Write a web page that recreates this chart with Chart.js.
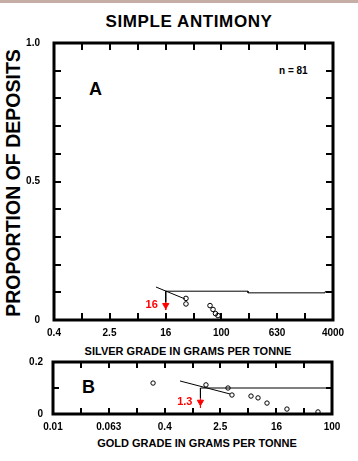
<!DOCTYPE html>
<html>
<head>
<meta charset="utf-8">
<script src="https://cdn.jsdelivr.net/npm/chart.js@4.4.1/dist/chart.umd.min.js"></script>
<style>
  html,body{margin:0;padding:0;background:#fff;}
  #wrap{position:relative;width:358px;height:461px;overflow:hidden;background:#fff;font-family:"Liberation Sans",Arial,sans-serif;font-weight:bold;color:#000;}
  .t{position:absolute;white-space:nowrap;line-height:1;}
  canvas{position:absolute;left:0;}
</style>
</head>
<body>
<div id="wrap">
  <div style="position:absolute;left:0;top:0;width:358px;height:3px;background:#c6aea6;"></div>
  <div class="t" id="title" style="font-size:17px;letter-spacing:0.6px;left:189px;top:13px;transform:translateX(-50%);">SIMPLE ANTIMONY</div>
  <div class="t" id="ytitle" style="font-size:19.5px;left:14px;top:183px;transform:translate(-50%,-50%) rotate(-90deg);">PROPORTION OF DEPOSITS</div>
  <div class="t" style="font-size:11px;left:188px;top:346px;transform:translateX(-50%);">SILVER GRADE IN GRAMS PER TONNE</div>
  <div class="t" style="font-size:11px;left:197px;top:438px;transform:translateX(-50%);">GOLD GRADE IN GRAMS PER TONNE</div>
  <div class="t" style="font-size:18px;left:89px;top:80px;">A</div>
  <div class="t" style="font-size:10px;left:279px;top:66px;">n = 81</div>
  <div class="t" style="font-size:18px;left:82px;top:378px;">B</div>
  <canvas id="cA" width="358" height="345" style="top:0;"></canvas>
  <canvas id="cB" width="358" height="121" style="top:340px;"></canvas>
</div>
<script>
// ---------- DATA ----------
const silverTicks = [0.4, 1, 2.5, 6.3, 16, 40, 100, 250, 630, 1600, 4000];
const silverTickLabels = ['0.4', '', '2.5', '', '16', '', '100', '', '630', '', '4000'];
const propTicksA = [0, 0.1, 0.2, 0.3, 0.4, 0.5, 0.6, 0.7, 0.8, 0.9, 1.0];
const propTickLabelsA = ['0', '', '', '', '', '0.5', '', '', '', '', '1.0'];

const silverPointsX = [31.2, 31.2, 69.0, 76.2, 82.7, 89.8];
const silverPointsY = [0.078, 0.058, 0.052, 0.038, 0.023, 0.016];
const silverSlopeX = [11.6, 30.2];
const silverSlopeY = [0.119, 0.076];
const silverCurveX = [16, 242, 242, 3072, 3072, 4000];
const silverCurveY = [0.104, 0.104, 0.098, 0.098, 0.102, 0.102];
const silverMedian = 16;
const silverMedianLabel = '16';

const goldTicks = [0.01, 0.025, 0.063, 0.16, 0.4, 1, 2.5, 6.3, 16, 40, 100];
const goldTickLabels = ['0.01', '', '0.063', '', '0.4', '', '2.5', '', '16', '', '100'];
const propTicksB = [0, 0.1, 0.2];
const propTickLabelsB = ['0', '', '0.2'];

const goldPointsX = [0.272, 1.56, 3.23, 3.68, 6.9, 8.7, 11.7, 22.6, 63];
const goldPointsY = [0.119, 0.112, 0.100, 0.073, 0.069, 0.062, 0.042, 0.019, 0.008];
const goldSlopeX = [0.662, 3.45];
const goldSlopeY = [0.127, 0.077];
const goldCurveX = [1.3, 100];
const goldCurveY = [0.100, 0.100];
const goldMedian = 1.3;
const goldMedianLabel = '1.3';

// ---------- helpers ----------
const FONT = '"Liberation Sans", Arial, sans-serif';
const zip = (xs, ys) => xs.map((x, i) => ({x: x, y: ys[i]}));

function framePlugin(tickLen, labelText, labelValue, labelY) {
  return {
    id: 'frame',
    afterDatasetsDraw(chart) {
      const ctx = chart.ctx, a = chart.chartArea;
      const xs = chart.scales.x, ys = chart.scales.y;
      ctx.save();
      ctx.strokeStyle = '#000';
      ctx.lineWidth = 2;
      xs.ticks.forEach((t, i) => {
        if (i === 0 || i === xs.ticks.length - 1) return;
        const px = Math.round(xs.getPixelForValue(t.value));
        ctx.beginPath();
        ctx.moveTo(px, a.bottom); ctx.lineTo(px, a.bottom - tickLen);
        ctx.moveTo(px, a.top); ctx.lineTo(px, a.top + tickLen);
        ctx.stroke();
      });
      ys.ticks.forEach((t, i) => {
        if (i === 0 || i === ys.ticks.length - 1) return;
        const py = Math.round(ys.getPixelForValue(t.value));
        ctx.beginPath();
        ctx.moveTo(a.left, py); ctx.lineTo(a.left + tickLen, py);
        ctx.moveTo(a.right, py); ctx.lineTo(a.right - tickLen, py);
        ctx.stroke();
      });
      ctx.lineWidth = 3;
      ctx.strokeRect(a.left, a.top, a.right - a.left, a.bottom - a.top);
      // median label
      ctx.fillStyle = '#ff0000';
      ctx.font = 'bold 11px ' + FONT;
      ctx.textAlign = 'right';
      ctx.textBaseline = 'middle';
      ctx.fillText(labelText, xs.getPixelForValue(labelValue) - 8, ys.getPixelForValue(labelY));
      ctx.restore();
    }
  };
}

function makeChart(canvasId, cfg) {
  const xTicks = cfg.xTicks, xLabels = cfg.xLabels, yTicks = cfg.yTicks, yLabels = cfg.yLabels;
  return new Chart(document.getElementById(canvasId), {
    type: 'scatter',
    data: {
      datasets: [
        { data: zip(cfg.curveX, cfg.curveY), showLine: true, borderColor: '#000', borderWidth: 1, pointRadius: 0, tension: 0 },
        { data: zip(cfg.slopeX, cfg.slopeY), showLine: true, borderColor: '#000', borderWidth: 1, pointRadius: 0, tension: 0 },
        { data: [{x: cfg.median, y: cfg.curveY[0]}, {x: cfg.median, y: cfg.arrowTop}], showLine: true, borderColor: '#000', borderWidth: 1, pointRadius: 0 },
        { data: [{x: cfg.median, y: cfg.arrowTop}, {x: cfg.median, y: cfg.arrowEnd}], showLine: true, borderColor: '#ff0000', borderWidth: 1, pointRadius: 0 },
        { data: [{x: cfg.median, y: cfg.arrowMid}], pointStyle: 'triangle', rotation: 180, pointRadius: 3.6, backgroundColor: '#ff0000', borderColor: '#ff0000', borderWidth: 1 },
        { data: zip(cfg.ptsX, cfg.ptsY), pointStyle: 'circle', pointRadius: cfg.pointR, backgroundColor: 'rgba(255,255,255,0)', borderColor: '#000', borderWidth: 1 }
      ]
    },
    options: {
      responsive: false,
      animation: false,
      devicePixelRatio: 1,
      layout: { padding: cfg.padding },
      plugins: { legend: { display: false }, tooltip: { enabled: false }, title: { display: false } },
      elements: { line: { borderCapStyle: 'butt' } },
      scales: {
        x: {
          type: 'logarithmic',
          min: xTicks[0], max: xTicks[xTicks.length - 1],
          afterBuildTicks: s => { s.ticks = xTicks.map(v => ({value: v})); },
          afterFit: s => { s.height = cfg.xHeight; },
          grid: { display: false, drawTicks: false },
          border: { display: false },
          ticks: {
            autoSkip: false, maxRotation: 0, minRotation: 0, padding: 7,
            color: '#000', font: { family: FONT, size: 10, weight: 'bold' },
            callback: (v, i) => xLabels[i]
          }
        },
        y: {
          type: 'linear',
          min: yTicks[0], max: yTicks[yTicks.length - 1],
          afterBuildTicks: s => { s.ticks = yTicks.map(v => ({value: v})); },
          afterFit: s => { s.width = cfg.yWidth; },
          grid: { display: false, drawTicks: false },
          border: { display: false },
          ticks: {
            autoSkip: false, padding: cfg.yPad,
            color: '#000', font: { family: FONT, size: 10, weight: 'bold' },
            callback: (v, i) => yLabels[i]
          }
        }
      }
    },
    plugins: [framePlugin(cfg.tickLen, cfg.medianLabel, cfg.median, cfg.arrowMid)]
  });
}

makeChart('cA', {
  xTicks: silverTicks, xLabels: silverTickLabels, yTicks: propTicksA, yLabels: propTickLabelsA,
  curveX: silverCurveX, curveY: silverCurveY, slopeX: silverSlopeX, slopeY: silverSlopeY,
  ptsX: silverPointsX, ptsY: silverPointsY, pointR: 2.3,
  median: silverMedian, medianLabel: silverMedianLabel,
  arrowTop: 0.065, arrowMid: 0.053, arrowEnd: 0.036,
  padding: { top: 43, right: 25, bottom: 0, left: 0 }, xHeight: 25, yWidth: 54, yPad: 14, tickLen: 7
});

makeChart('cB', {
  xTicks: goldTicks, xLabels: goldTickLabels, yTicks: propTicksB, yLabels: propTickLabelsB,
  curveX: goldCurveX, curveY: goldCurveY, slopeX: goldSlopeX, slopeY: goldSlopeY,
  ptsX: goldPointsX, ptsY: goldPointsY, pointR: 2.2,
  median: goldMedian, medianLabel: goldMedianLabel,
  arrowTop: 0.062, arrowMid: 0.046, arrowEnd: 0.023,
  padding: { top: 22, right: 26, bottom: 0, left: 0 }, xHeight: 47, yWidth: 53, yPad: 10, tickLen: 6
});
</script>
</body>
</html>
